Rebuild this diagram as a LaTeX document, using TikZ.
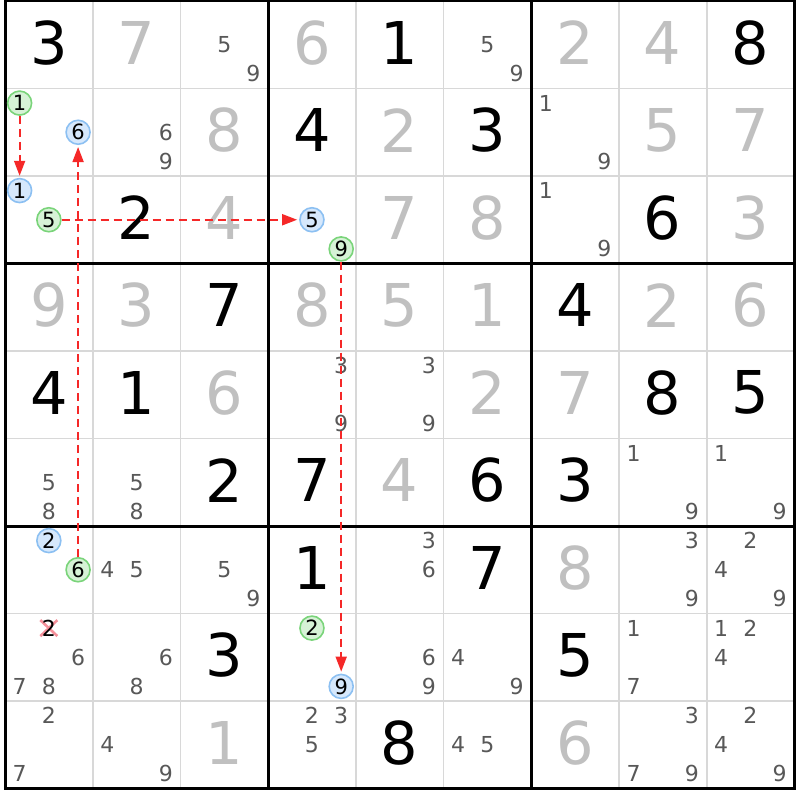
\documentclass[tikz,border=0pt]{standalone}
\usepackage{fontspec}
\setmainfont{DejaVu Sans}
\usetikzlibrary{arrows.meta}
\definecolor{solvedgray}{RGB}{192,192,192}
\definecolor{candgray}{RGB}{88,88,88}
\definecolor{gridgray}{RGB}{216,216,216}
\definecolor{gfill}{RGB}{214,242,214}
\definecolor{gline}{RGB}{122,212,122}
\definecolor{bfill}{RGB}{214,232,252}
\definecolor{bline}{RGB}{140,192,242}
\definecolor{linkred}{RGB}{245,40,40}
\definecolor{xpink}{RGB}{245,145,155}
\newcommand\G[4]{\node[#4] (v#1#2) at ({5+(#2+0.5)*87.7},{1+(#1+0.5)*87.5-2}) {#3};}
\newcommand\C[3]{\foreach \d in {#3}{%
  \pgfmathtruncatemacro\sc{mod(\d-1,3)}%
  \pgfmathtruncatemacro\sr{(\d-1)/3}%
  \node[cand] (k#1#2\d) at ({5+#2*87.7+(\sc+0.5)*87.7/3},{1+#1*87.5+(\sr+0.5)*87.5/3}) {\d};}}
\newcommand\K[4]{%
  \pgfmathtruncatemacro\sc{mod(#3-1,3)}%
  \pgfmathtruncatemacro\sr{(#3-1)/3}%
  \node[#4] (k#1#2#3) at ({5+#2*87.7+(\sc+0.5)*87.7/3},{1+#1*87.5+(\sr+0.5)*87.5/3}) {#3};}
\begin{document}
\begin{tikzpicture}[x=1pt,y=-1pt,
  given/.style={inner sep=0pt,font=\fontsize{59}{59}\selectfont,text=black},
  solved/.style={given,text=solvedgray},
  cand/.style={inner sep=0pt,font=\fontsize{22}{22}\selectfont,text=candgray},
  gc/.style={circle,draw=gline,fill=gfill,line width=1.6pt,minimum size=24pt,inner sep=0pt,text=black,font=\fontsize{21}{21}\selectfont},
  bc/.style={gc,draw=bline,fill=bfill},
  xc/.style={cand,text=black},
  thin/.style={draw=gridgray,line width=1.8pt},
  thick/.style={draw=black,line width=3pt},
  link/.style={draw=linkred,line width=1.8pt,dash pattern=on 8pt off 5pt,-{Triangle[length=15pt,width=11pt]},shorten >=2pt},
  xmark/.style={draw=xpink,line width=2.6pt}]
\useasboundingbox (0,0) rectangle (800,800);
\fill[white] (0,0) rectangle (800,800);
% grid
\foreach \i in {1,2,4,5,7,8}{
  \draw[thin] ({5+\i*87.7},1) -- ({5+\i*87.7},788.5);
  \draw[thin] (5,{1+\i*87.5}) -- (794.3,{1+\i*87.5});
}
\foreach \i in {3,6}{
  \draw[thick] ({5+\i*87.7},1) -- ({5+\i*87.7},788.5);
  \draw[thick] (5,{1+\i*87.5}) -- (794.3,{1+\i*87.5});
}
\draw[thick] (5,1) rectangle (794.3,788.5);
% row 0
\G{0}{0}{3}{given} \G{0}{1}{7}{solved} \C{0}{2}{5,9} \G{0}{3}{6}{solved} \G{0}{4}{1}{given}
\C{0}{5}{5,9} \G{0}{6}{2}{solved} \G{0}{7}{4}{solved} \G{0}{8}{8}{given}
% row 1
\K{1}{0}{1}{gc} \K{1}{0}{6}{bc} \C{1}{1}{6,9} \G{1}{2}{8}{solved} \G{1}{3}{4}{given}
\G{1}{4}{2}{solved} \G{1}{5}{3}{given} \C{1}{6}{1,9} \G{1}{7}{5}{solved} \G{1}{8}{7}{solved}
% row 2
\K{2}{0}{1}{bc} \K{2}{0}{5}{gc} \G{2}{1}{2}{given} \G{2}{2}{4}{solved} \K{2}{3}{5}{bc} \K{2}{3}{9}{gc}
\G{2}{4}{7}{solved} \G{2}{5}{8}{solved} \C{2}{6}{1,9} \G{2}{7}{6}{given} \G{2}{8}{3}{solved}
% row 3
\G{3}{0}{9}{solved} \G{3}{1}{3}{solved} \G{3}{2}{7}{given} \G{3}{3}{8}{solved} \G{3}{4}{5}{solved}
\G{3}{5}{1}{solved} \G{3}{6}{4}{given} \G{3}{7}{2}{solved} \G{3}{8}{6}{solved}
% row 4
\G{4}{0}{4}{given} \G{4}{1}{1}{given} \G{4}{2}{6}{solved} \C{4}{3}{3,9} \C{4}{4}{3,9}
\G{4}{5}{2}{solved} \G{4}{6}{7}{solved} \G{4}{7}{8}{given} \G{4}{8}{5}{given}
% row 5
\C{5}{0}{5,8} \C{5}{1}{5,8} \G{5}{2}{2}{given} \G{5}{3}{7}{given} \G{5}{4}{4}{solved}
\G{5}{5}{6}{given} \G{5}{6}{3}{given} \C{5}{7}{1,9} \C{5}{8}{1,9}
% row 6
\K{6}{0}{2}{bc} \K{6}{0}{6}{gc} \C{6}{1}{4,5} \C{6}{2}{5,9} \G{6}{3}{1}{given} \C{6}{4}{3,6}
\G{6}{5}{7}{given} \G{6}{6}{8}{solved} \C{6}{7}{3,9} \C{6}{8}{2,4,9}
% row 7
\draw[xmark] ({5+43.85-8.5},{1+7*87.5+14.6-8}) -- ({5+43.85+8.5},{1+7*87.5+14.6+8});
\draw[xmark] ({5+43.85-8.5},{1+7*87.5+14.6+8}) -- ({5+43.85+8.5},{1+7*87.5+14.6-8});
\K{7}{0}{2}{xc} \C{7}{0}{6,7,8} \C{7}{1}{6,8} \G{7}{2}{3}{given} \K{7}{3}{2}{gc} \K{7}{3}{9}{bc}
\C{7}{4}{6,9} \C{7}{5}{4,9} \G{7}{6}{5}{given} \C{7}{7}{1,7} \C{7}{8}{1,2,4}
% row 8
\C{8}{0}{2,7} \C{8}{1}{4,9} \G{8}{2}{1}{solved} \C{8}{3}{2,3,5} \G{8}{4}{8}{given}
\C{8}{5}{4,5} \G{8}{6}{6}{solved} \C{8}{7}{3,7,9} \C{8}{8}{2,4,9}
% links
\draw[link] (k101) -- (k201);
\draw[link] (k205) -- (k235);
\draw[link] (k239) -- (k739);
\draw[link] (k606) -- (k106);
\end{tikzpicture}
\end{document}
